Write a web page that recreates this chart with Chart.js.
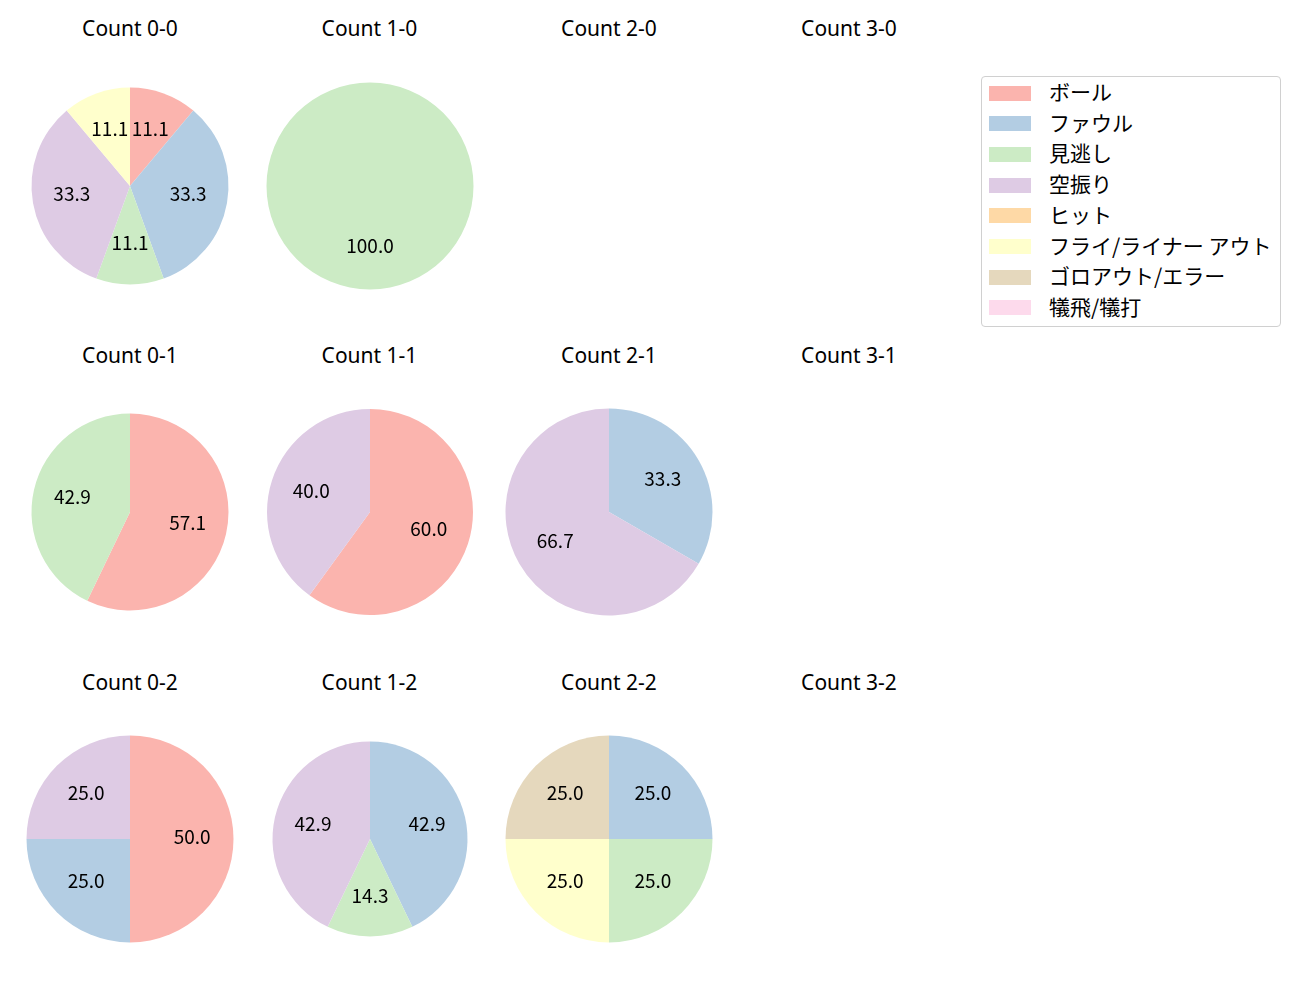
<!DOCTYPE html>
<html>
<head>
<meta charset="utf-8">
<script src="https://cdn.jsdelivr.net/npm/chart.js@4"></script>
<style>
  html, body { margin: 0; padding: 0; background: #fff; }
  body { width: 1300px; height: 1000px; position: relative; overflow: hidden;
         font-family: "Noto Sans CJK JP", "Noto Sans", sans-serif; color: #000; }
  .title { position: absolute; width: 240px; text-align: center; font-family: "Noto Sans", sans-serif;
           font-size: 21px; line-height: 24px; }
  canvas { position: absolute; }
  #legend { position: absolute; left: 981px; top: 76px; width: 298px; height: 249px;
            border: 1px solid #d0d0d0; border-radius: 4px; background: #fff; }
  .row { position: absolute; left: 0; height: 24px; }
  .patch { position: absolute; left: 7px; width: 42px; height: 15px; }
  .lab { position: absolute; left: 67px; top: -2px; font-size: 21px; line-height: 24px; white-space: nowrap; }
</style>
</head>
<body>
<div id="legend"></div>
<script>
// categories and colours (matplotlib Pastel1)
var categories = ['ボール', 'ファウル', '見逃し', '空振り', 'ヒット', 'フライ/ライナー アウト', 'ゴロアウト/エラー', '犠飛/犠打'];
var colors = ['#fbb4ae', '#b3cde3', '#ccebc5', '#decbe4', '#fed9a6', '#ffffcc', '#e5d8bd', '#fddaec'];

// pitch counts per ball-strike count (order follows categories)
var count00 = [1, 3, 1, 3, 0, 1, 0, 0];
var count10 = [0, 0, 1, 0, 0, 0, 0, 0];
var count20 = [];
var count30 = [];
var count01 = [4, 0, 3, 0, 0, 0, 0, 0];
var count11 = [3, 0, 0, 2, 0, 0, 0, 0];
var count21 = [0, 1, 0, 2, 0, 0, 0, 0];
var count31 = [];
var count02 = [2, 1, 0, 1, 0, 0, 0, 0];
var count12 = [0, 3, 1, 3, 0, 0, 0, 0];
var count22 = [0, 1, 1, 0, 0, 1, 1, 0];
var count32 = [];

var titles = ['Count 0-0', 'Count 1-0', 'Count 2-0', 'Count 3-0',
              'Count 0-1', 'Count 1-1', 'Count 2-1', 'Count 3-1',
              'Count 0-2', 'Count 1-2', 'Count 2-2', 'Count 3-2'];
var series = [count00, count10, count20, count30,
              count01, count11, count21, count31,
              count02, count12, count22, count32];

// layout of the grid
var colX = [130, 369.5, 609, 849];
var rowY = [185.5, 512, 839];
var titleY = [27.5, 354.5, 681.5];
var radii = [98.5, 103.5, 0, 0, 98.5, 103, 103.5, 0, 103.5, 97.5, 103.5, 0];
var BOX = 230;

/* ── percentage labels inside each slice ── */
var pctLabels = {
  id: 'pctLabels',
  afterDatasetsDraw: function (chart) {
    var ctx = chart.ctx;
    var data = chart.data.datasets[0].data;
    var total = data.reduce(function (a, b) { return a + b; }, 0);
    ctx.save();
    ctx.font = '19px "Noto Sans CJK JP", sans-serif';
    ctx.fillStyle = '#000';
    ctx.textAlign = 'center';
    ctx.textBaseline = 'middle';
    chart.getDatasetMeta(0).data.forEach(function (arc, i) {
      if (!data[i]) return;
      var p = arc.getProps(['x', 'y', 'startAngle', 'endAngle', 'outerRadius'], true);
      var mid = (p.startAngle + p.endAngle) / 2;
      var r = p.outerRadius * 0.6;
      ctx.fillText((data[i] / total * 100).toFixed(1), p.x + Math.cos(mid) * r, p.y + Math.sin(mid) * r - 2);
    });
    ctx.restore();
  }
};

titles.forEach(function (t, k) {
  var col = k % 4, row = Math.floor(k / 4);
  var d = document.createElement('div');
  d.className = 'title';
  d.textContent = t;
  d.style.left = (colX[col] - 120) + 'px';
  d.style.top = (titleY[row] - 12) + 'px';
  document.body.appendChild(d);

  var vals = series[k];
  if (!vals.length) return;
  var cv = document.createElement('canvas');
  cv.width = BOX; cv.height = BOX;
  cv.style.left = (colX[col] - BOX / 2) + 'px';
  cv.style.top = (rowY[row] - BOX / 2) + 'px';
  document.body.appendChild(cv);

  new Chart(cv, {
    type: 'pie',
    data: {
      labels: categories,
      datasets: [{ data: vals, backgroundColor: colors, borderWidth: 0 }]
    },
    options: {
      responsive: false,
      animation: false,
      radius: radii[k],
      layout: { padding: 0 },
      plugins: { legend: { display: false }, tooltip: { enabled: false } }
    },
    plugins: [pctLabels]
  });
});

/* ── legend ── */
var lg = document.getElementById('legend');
categories.forEach(function (c, i) {
  var r = document.createElement('div');
  r.className = 'row';
  r.style.top = (16 + i * 30.7 - 12) + 'px';
  r.innerHTML = '<div class="patch" style="top:4.5px;background:' + colors[i] + '"></div>' +
                '<div class="lab">' + c + '</div>';
  lg.appendChild(r);
});
</script>
</body>
</html>
